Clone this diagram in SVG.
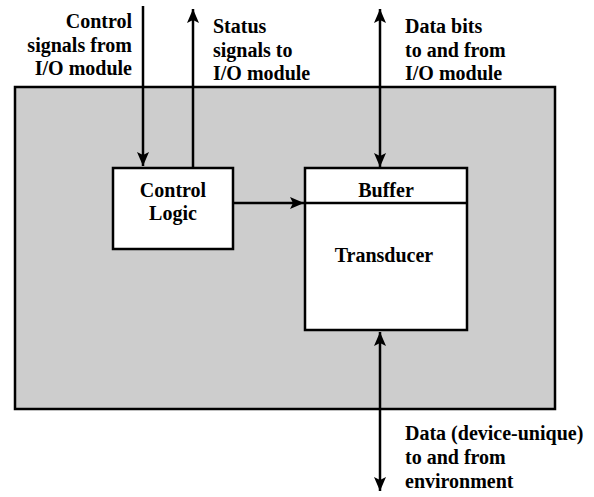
<svg xmlns="http://www.w3.org/2000/svg" width="594" height="497" viewBox="0 0 594 497">
<style>
text{font-family:'Liberation Serif','DejaVu Serif',serif;font-weight:700;font-size:20px;fill:#000}
.box{fill:#fff;stroke:#000;stroke-width:2.5}
.ln{stroke:#000;stroke-width:2.5;fill:none}
</style>
<defs>
<marker id="ah" viewBox="0 0 14 12" refX="14" refY="6" markerWidth="14" markerHeight="12" markerUnits="userSpaceOnUse" orient="auto-start-reverse">
<path d="M0,0 L14,6 L0,12 L3,6 Z" fill="#000"/>
</marker>
</defs>
<rect width="594" height="497" fill="#fff"/>
<g id="device">
<rect x="15" y="87" width="540" height="322" fill="#cdcdcd" stroke="#000" stroke-width="2.5"/>
</g>
<g id="control-logic">
<rect class="box" x="113" y="168" width="120" height="81"/>
<text x="173" y="197" text-anchor="middle" font-family="Liberation Serif, serif">Control</text>
<text x="173" y="220" text-anchor="middle" font-family="Liberation Serif, serif">Logic</text>
</g>
<g id="buffer-transducer">
<rect class="box" x="305" y="168" width="162" height="162"/>
<line class="ln" x1="305" y1="203" x2="467" y2="203"/>
<text x="386" y="197" text-anchor="middle">Buffer</text>
<text x="384" y="262" text-anchor="middle">Transducer</text>
</g>
<g id="connectors">
<line class="ln" x1="143" y1="6" x2="143" y2="166" marker-end="url(#ah)"/>
<line class="ln" x1="193" y1="168" x2="193" y2="9" marker-end="url(#ah)"/>
<line class="ln" x1="380" y1="9" x2="380" y2="167" marker-start="url(#ah)" marker-end="url(#ah)"/>
<line class="ln" x1="233" y1="203" x2="304" y2="203" marker-end="url(#ah)"/>
<line class="ln" x1="380" y1="332" x2="380" y2="491" marker-start="url(#ah)" marker-end="url(#ah)"/>
</g>
<g id="labels">
<text x="132" y="28" text-anchor="end">Control</text>
<text x="132" y="52" text-anchor="end">signals from</text>
<text x="132" y="75" text-anchor="end">I/O module</text>
<text x="213" y="33">Status</text>
<text x="213" y="57">signals to</text>
<text x="213" y="80">I/O module</text>
<text x="405" y="33">Data bits</text>
<text x="405" y="57">to and from</text>
<text x="405" y="80">I/O module</text>
<text x="405" y="440">Data (device-unique)</text>
<text x="405" y="464">to and from</text>
<text x="405" y="488">environment</text>
</g>
</svg>
